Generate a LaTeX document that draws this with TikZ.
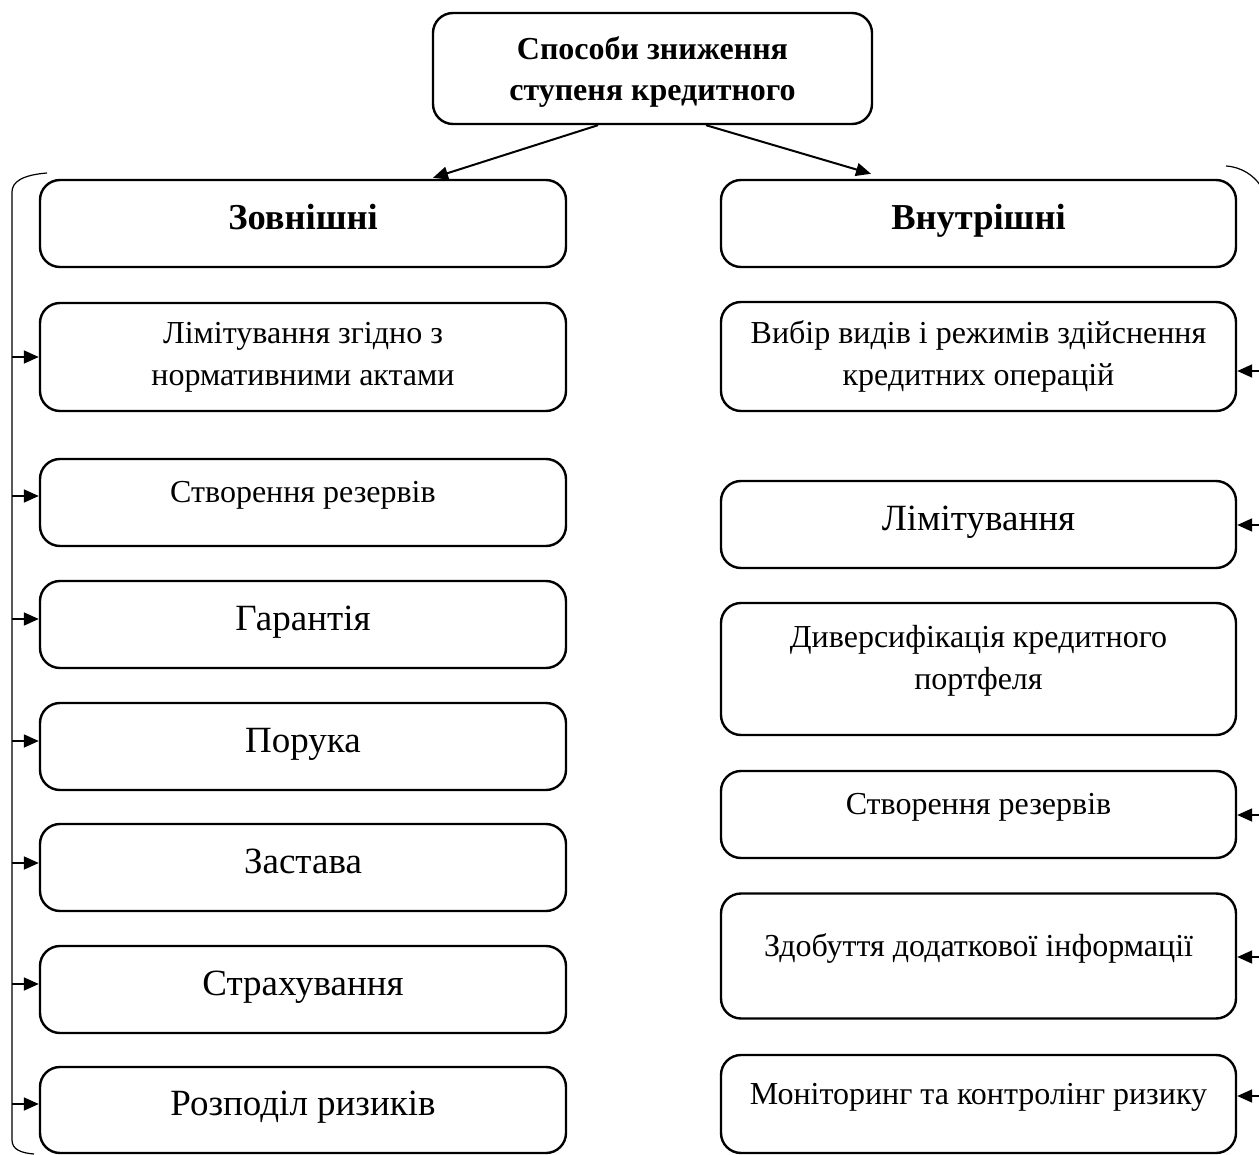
\documentclass[tikz,border=0pt]{standalone}
\usepackage{fontspec}
\setmainfont{Liberation Serif}
\usetikzlibrary{arrows.meta,calc}
\tikzset{
  box/.style={draw, line width=2.4pt, rounded corners=20pt, inner sep=0pt, align=center, font=\fontsize{32}{42}\selectfont},
  lbox/.style={box, minimum width=526pt},
  rbox/.style={box, minimum width=515pt},
  one/.style={text height=15pt, text depth=15pt},
  big/.style={font=\fontsize{37}{42}\selectfont, text height=26pt, text depth=15pt},
  bhead/.style={font=\fontsize{36.5}{42}\selectfont\bfseries, text height=26pt, text depth=13pt},
  conn/.style={line width=2pt, -{Triangle[length=15pt,width=13pt]}},
  side/.style={line width=1.8pt, -{Triangle[length=15pt,width=13pt]}},
  brack/.style={line width=1.2pt}
}
\begin{document}
\begin{tikzpicture}[x=1pt,y=-1pt]
\useasboundingbox (0,0) rectangle (1259,1155);
% top
\node[box, minimum width=439pt, minimum height=111pt, text depth=0pt, font=\fontsize{32}{41}\selectfont\bfseries] (top) at (652.5,68.5) {Способи зниження\\ступеня кредитного};
% left column
\node[lbox, minimum height=87pt, bhead] (Z) at (303,223.5) {Зовнішні};
\node[lbox, minimum height=108pt] (L1) at (303,357) {Лімітування згідно з\\нормативними актами};
\node[lbox, minimum height=87pt, one] (L2) at (303,502.5) {Створення резервів};
\node[lbox, minimum height=87pt, big] (L3) at (303,624.5) {Гарантія};
\node[lbox, minimum height=87pt, big] (L4) at (303,746.5) {Порука};
\node[lbox, minimum height=87pt, big] (L5) at (303,867.5) {Застава};
\node[lbox, minimum height=87pt, big] (L6) at (303,989.5) {Страхування};
\node[lbox, minimum height=86pt, big] (L7) at (303,1110) {Розподіл ризиків};
% right column
\node[rbox, minimum height=87pt, bhead] (V) at (978.5,223.5) {Внутрішні};
\node[rbox, minimum height=109pt] (R1) at (978.5,356.5) {Вибір видів і режимів здійснення\\кредитних операцій};
\node[rbox, minimum height=87pt, big] (R2) at (978.5,524.5) {Лімітування};
\node[rbox, minimum height=132pt] (R3) at (978.5,669) {};
\node[align=center, font=\fontsize{32}{42}\selectfont, inner sep=0pt] (R3t) at (978.5,661) {Диверсифікація кредитного\\портфеля};
\node[rbox, minimum height=87pt, one] (R4) at (978.5,814.5) {Створення резервів};
\node[rbox, minimum height=125pt, one] (R5) at (978.5,956) {Здобуття додаткової інформації};
\node[rbox, minimum height=98pt, one] (R6) at (978.5,1104) {Моніторинг та контролінг ризику};
% top arrows
\draw[conn] ($(top.south)+(-54.5,0)$) -- ($(Z.north)+(130,-1)$);
\draw[conn] ($(top.south)+(53.5,0)$) -- ($(V.north)+(-107.5,-5)$);
% left bracket
\coordinate (lb1) at (47,173);
\coordinate (lb2) at (12,192);
\coordinate (lb3) at (12,1140);
\coordinate (lb4) at (34,1154);
\draw[brack] (lb1) .. controls (22,175) and (12,182) .. (lb2) -- (lb3) .. controls (12,1150) and (22,1153) .. (lb4);
% right bracket
\coordinate (rb1) at (1226,166);
\coordinate (rb2) at (1260,185);
\draw[brack] (rb1) .. controls (1242,167) and (1254,176) .. (rb2);
% left arrows
\foreach \n/\yy in {L1/357, L2/496, L3/619, L4/741, L5/863, L6/984, L7/1104}{
  \coordinate (a\n) at (12,\yy);
  \draw[side] (a\n) -- (a\n -| \n.west);
}
% right arrows
\foreach \n/\yy in {R1/371, R2/525, R4/815, R5/957, R6/1096}{
  \coordinate (b\n) at (1262,\yy);
  \draw[side] (b\n) -- (b\n -| \n.east);
}
\end{tikzpicture}
\end{document}
